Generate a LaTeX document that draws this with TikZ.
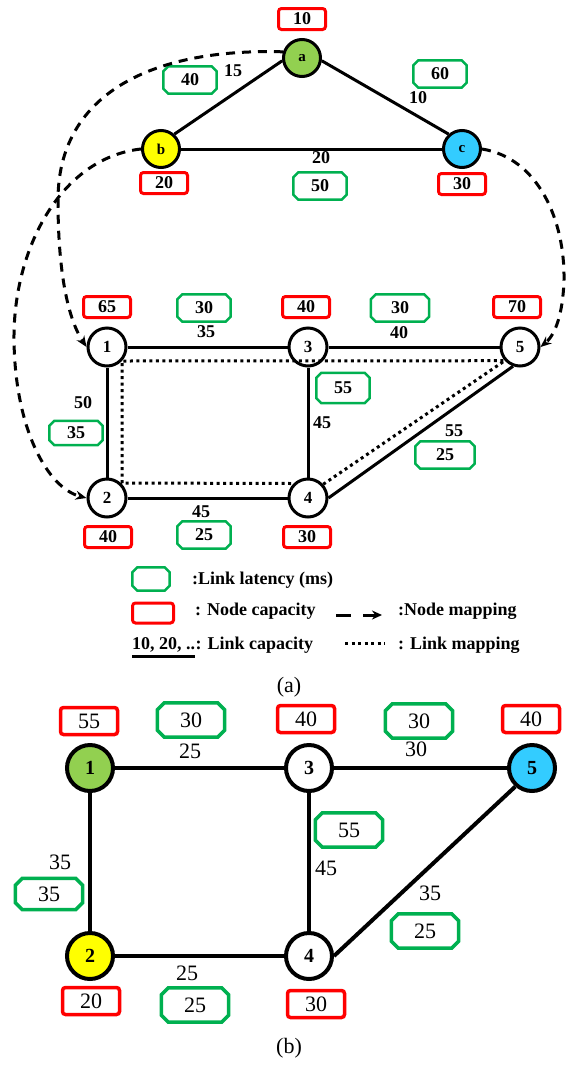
\documentclass[tikz,border=0pt]{standalone}
\usepackage{fontspec}
\setmainfont{Liberation Serif}
\usetikzlibrary{arrows.meta}
\definecolor{latgreen}{HTML}{00B050}
\definecolor{capred}{HTML}{FF0000}
\definecolor{vgreen}{HTML}{92D050}
\definecolor{vyellow}{HTML}{FFFF00}
\definecolor{vblue}{HTML}{33CCFF}
\tikzset{
  octagon/.style 2 args={append after command={\pgfextra{
    \draw[latgreen, line width=#1, line join=miter]
      ([xshift=#2]\tikzlastnode.north west) -- ([xshift=-#2]\tikzlastnode.north east)
      -- ([yshift=-#2]\tikzlastnode.north east) -- ([yshift=#2]\tikzlastnode.south east)
      -- ([xshift=-#2]\tikzlastnode.south east) -- ([xshift=#2]\tikzlastnode.south west)
      -- ([yshift=#2]\tikzlastnode.south west) -- ([yshift=-#2]\tikzlastnode.north west)
      -- cycle;}}}
}
\begin{document}
\begin{tikzpicture}[x=1pt, y=-1pt,
  vnode/.style={circle, draw, line width=3pt, minimum size=37pt, inner sep=0pt,
                font=\fontsize{15}{15}\selectfont\bfseries},
  snode/.style={circle, draw, line width=3pt, minimum size=38pt, inner sep=0pt,
                fill=white, font=\fontsize{17}{17}\selectfont\bfseries},
  rnode/.style={circle, draw, line width=4pt, minimum size=46pt, inner sep=0pt,
                fill=white, font=\fontsize{20}{20}\selectfont\bfseries},
  capbox/.style={draw=capred, rounded corners=3pt, line width=3pt, minimum width=47pt,
              minimum height=21pt, inner sep=0pt, font=\fontsize{18}{18}\selectfont\bfseries},
  latbox/.style={rectangle, minimum width=53pt, minimum height=27pt, inner sep=0pt,
              octagon={2.5pt}{5pt}, font=\fontsize{18}{18}\selectfont\bfseries},
  bigcap/.style={capbox, line width=3.5pt, minimum width=57pt, minimum height=27pt,
                 font=\fontsize{22}{22}\selectfont},
  biglat/.style={rectangle, minimum width=67pt, minimum height=34pt, inner sep=0pt,
                 octagon={3.5pt}{7pt}, font=\fontsize{22}{22}\selectfont},
  bw/.style={font=\fontsize{18}{18}\selectfont\bfseries, inner sep=0pt},
  rw/.style={font=\fontsize{22}{22}\selectfont, inner sep=0pt},
  link/.style={line width=3pt},
  rlink/.style={line width=4pt},
  nodemap/.style={line width=3pt, dash pattern=on 9pt off 7pt,
                  -{Stealth[length=11pt, width=9pt]}},
  linkmap/.style={line width=3pt, dash pattern=on 3pt off 3.5pt},
  legend/.style={anchor=west, inner sep=0pt, font=\fontsize{18}{18}\selectfont\bfseries}
]
  \useasboundingbox (0,0) rectangle (567,1066);

  % virtual request
  \node[vnode, fill=vgreen]  (va) at (302,58)  {a};
  \node[vnode, fill=vyellow] (vb) at (161,149) {b};
  \node[vnode, fill=vblue]   (vc) at (462,149) {c};
  \draw[link] (va.188) -- (vb.48);
  \draw[link] (va.352) -- (vc.132);
  \draw[link] (vb) -- (vc);

  \node[capbox] (capa) at (302,19)  {10};
  \node[capbox] (capb) at (164,183) {20};
  \node[capbox] (capc) at (462,184) {30};
  \node[latbox] (latab) at (190,80)  {40};
  \node[latbox] (latac) at (440,74)  {60};
  \node[latbox] (latbc) at (320,186) {50};
  \node[bw] (bwab) at (233,71)  {15};
  \node[bw] (bwac) at (418,98)  {10};
  \node[bw] (bwbc) at (321,158) {20};

  % substrate network
  \node[snode] (s1) at (107,347) {1};
  \node[snode] (s3) at (308,347) {3};
  \node[snode] (s5) at (520,347) {5};
  \node[snode] (s2) at (107,498) {2};
  \node[snode] (s4) at (308,498) {4};
  \draw[link] (s1) -- (s3);
  \draw[link] (s3) -- (s5);
  \draw[link] (s1) -- (s2);
  \draw[link] (s2) -- (s4);
  \draw[link] (s3) -- (s4);
  \draw[link] (s4.east) -- (s5.250);

  \coordinate (m1) at (122,361);
  \coordinate (m2) at (122,483);
  \draw[linkmap] (s4.42) -- (s5.222) -- (m1) -- (m2) -- (s4.135);

  \node[capbox] (cap1) at (107,307) {65};
  \node[capbox] (cap3) at (306,307) {40};
  \node[capbox] (cap5) at (517,307) {70};
  \node[capbox] (cap2) at (108,537) {40};
  \node[capbox] (cap4) at (307,537) {30};
  \node[latbox] (lat13) at (204,308) {30};
  \node[latbox, minimum width=58pt] (lat35) at (400,308) {30};
  \node[latbox, minimum height=30pt] (lat34) at (343,388) {55};
  \node[latbox, minimum height=24pt] (lat12) at (76,433)  {35};
  \node[latbox, minimum width=59pt] (lat45) at (445,455) {25};
  \node[latbox] (lat24) at (204,535) {25};
  \node[bw] (bw13) at (206,332) {35};
  \node[bw] (bw35) at (399,333) {40};
  \node[bw] (bw12) at (83,403)  {50};
  \node[bw] (bw34) at (322,423) {45};
  \node[bw] (bw45) at (454,431) {55};
  \node[bw] (bw24) at (201,512) {45};

  % node mapping
  \draw[nodemap] (va.162) .. controls (150,48) and (58,95) .. (58,200)
                 .. controls (58,280) and (70,322) .. (s1.west);
  \draw[nodemap] (vb.west) .. controls (60,158) and (13,250) .. (14,340)
                 .. controls (15,430) and (48,488) .. (s2.west);
  \draw[nodemap] (vc.east) .. controls (538,158) and (565,220) .. (564,280)
                 .. controls (563,312) and (556,334) .. (s5.east);

  % legend
  \node[latbox, minimum width=37pt, minimum height=23pt] (leglat) at (151,579) {};
  \node[legend] (leglattxt) at (192,580) {:Link latency (ms)};
  \node[capbox, minimum width=41pt, minimum height=20pt] (legcap) at (153,613) {};
  \node[legend] (legcaptxt) at (195,611) {: Node capacity};
  \coordinate (md0) at (336,615);
  \coordinate (md1) at (382,615);
  \draw[line width=3pt, dash pattern=on 15pt off 12pt, -{Stealth[length=10pt, width=9pt]}] (md0) -- (md1);
  \node[legend] (legmap) at (398,611) {:Node mapping};
  \node[legend] (legnum) at (132,645) {10, 20, ..};
  \node[legend, anchor=west] (legnumtxt) at (legnum.east) {: Link capacity};
  \draw[line width=3pt] ([yshift=-4pt]legnum.south west) -- ([yshift=-4pt]legnum.south east);
  \coordinate (ml0) at (345,643);
  \coordinate (ml1) at (385,643);
  \draw[linkmap] (ml0) -- (ml1);
  \node[legend] (leglink) at (398,645) {: Link mapping};
  \node[font=\fontsize{22}{22}\selectfont] (capta) at (289,687) {(a)};

  % embedding result
  \node[rnode, fill=vgreen]  (r1) at (90,768)  {1};
  \node[rnode]               (r3) at (309,768) {3};
  \node[rnode, fill=vblue]   (r5) at (532,768) {5};
  \node[rnode, fill=vyellow] (r2) at (90,956)  {2};
  \node[rnode]               (r4) at (309,956) {4};
  \draw[rlink] (r1) -- (r3);
  \draw[rlink] (r3) -- (r5);
  \draw[rlink] (r1) -- (r2);
  \draw[rlink] (r2) -- (r4);
  \draw[rlink] (r3) -- (r4);
  \draw[rlink] (r4.east) -- (r5.228);

  \node[bigcap] (rcap1) at (89,721)   {55};
  \node[bigcap] (rcap3) at (306,719)  {40};
  \node[bigcap] (rcap5) at (531,719)  {40};
  \node[bigcap] (rcap2) at (91,1001)  {20};
  \node[bigcap] (rcap4) at (316,1004) {30};
  \node[biglat] (rlat13) at (191,720) {30};
  \node[biglat] (rlat35) at (419,721) {30};
  \node[biglat] (rlat34) at (349,830) {55};
  \node[biglat, minimum height=31pt] (rlat12) at (49,894) {35};
  \node[biglat] (rlat45) at (425,931) {25};
  \node[biglat] (rlat24) at (195,1005) {25};
  \node[rw] (rbw13) at (190,751) {25};
  \node[rw] (rbw35) at (416,749) {30};
  \node[rw] (rbw12) at (60,862)  {35};
  \node[rw] (rbw34) at (326,868) {45};
  \node[rw] (rbw45) at (430,893) {35};
  \node[rw] (rbw24) at (187,973) {25};
  \node[font=\fontsize{22}{22}\selectfont] (captb) at (289,1048) {(b)};
\end{tikzpicture}
\end{document}
